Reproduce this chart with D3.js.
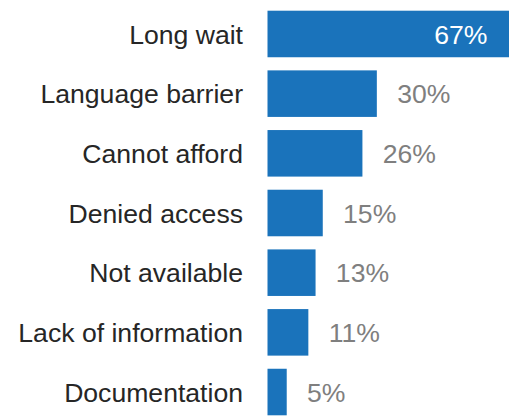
<!DOCTYPE html>
<html>
<head>
<meta charset="utf-8">
<script src="https://cdn.jsdelivr.net/npm/d3@7"></script>
<style>
html,body{margin:0;padding:0;background:#fff;}
svg{display:block;}
</style>
</head>
<body>
<script>
const categories = ["Long wait","Language barrier","Cannot afford","Denied access","Not available","Lack of information","Documentation"];
const values = [67,30,26,15,13,11,5];
const valueLabels = ["67%","30%","26%","15%","13%","11%","5%"];

const W = 512, H = 420;
const svg = d3.select("body").append("svg").attr("width", W).attr("height", H);

const x = d3.scaleLinear().domain([0, 67]).range([267.5, 509]);
const y = d3.scaleBand().domain(categories).range([10.7, 415.3]).paddingInner(0.22).paddingOuter(0);

const font = "'Liberation Sans', Arial, sans-serif";

svg.selectAll("rect.bar").data(categories).join("rect")
  .attr("class","bar")
  .attr("x", x(0))
  .attr("y", d => y(d))
  .attr("width", (d,i) => x(values[i]) - x(0) + (i === 0 ? 0 : 1.2))
  .attr("height", y.bandwidth())
  .attr("fill", "#1a73bb");

svg.selectAll("text.cat").data(categories).join("text")
  .attr("class","cat")
  .attr("x", x(0) - 24.5)
  .attr("y", d => y(d) + y.bandwidth()/2)
  .attr("dy","0.36em")
  .attr("text-anchor","end")
  .attr("font-family", font)
  .attr("font-size", 26.6)
  .attr("fill", "#262626")
  .text(d => d);

svg.selectAll("text.val").data(categories).join("text")
  .attr("class","val")
  .attr("x", (d,i) => i === 0 ? x(values[i]) - 21.5 : x(values[i]) + 21.5)
  .attr("y", d => y(d) + y.bandwidth()/2)
  .attr("dy","0.36em")
  .attr("text-anchor", (d,i) => i === 0 ? "end" : "start")
  .attr("font-family", font)
  .attr("font-size", 26.6)
  .attr("fill", (d,i) => i === 0 ? "#ffffff" : "#7f7f7f")
  .text((d,i) => valueLabels[i]);
</script>
</body>
</html>
